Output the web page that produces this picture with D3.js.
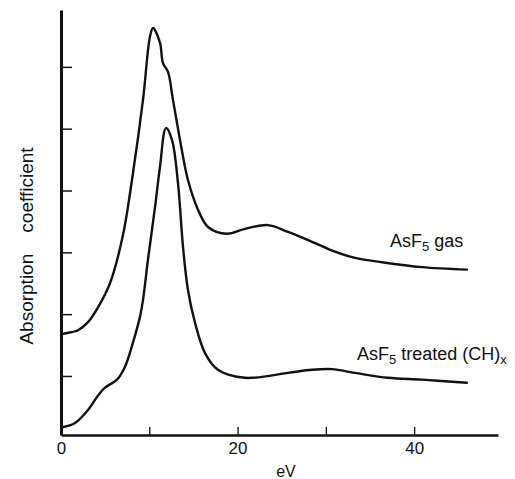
<!DOCTYPE html>
<html>
<head>
<meta charset="utf-8">
<script src="https://cdn.jsdelivr.net/npm/d3@7/dist/d3.min.js"></script>
<style>
  html, body { margin: 0; padding: 0; background: #fff; }
  svg { display: block; }
  text { font-family: "Liberation Sans", Arial, sans-serif; fill: #111; }
</style>
</head>
<body>
<svg id="chart" width="515" height="479"></svg>
<script>
// ---- data (eV, absorption coefficient, arbitrary units) ----
const gasX = [0, 0.23, 1.93, 3.06, 4.19, 5.55, 7.02, 8.15, 9.29, 10.08, 10.42, 11.21, 11.55, 12.12, 12.68, 13.82, 14.38, 15.52, 16.65, 18.80, 20.84, 23.44, 25.71, 28.43, 31.03, 33.30, 36.35, 40.88, 45.98];
const gasY = [1.66, 1.68, 1.74, 1.87, 2.11, 2.50, 3.28, 4.28, 5.47, 6.49, 6.63, 6.39, 6.06, 5.92, 5.47, 4.55, 4.17, 3.69, 3.41, 3.30, 3.38, 3.44, 3.33, 3.17, 3.01, 2.91, 2.84, 2.76, 2.72];

const chX = [0.11, 1.59, 3.06, 4.08, 4.98, 6.34, 7.25, 8.15, 8.95, 9.29, 9.85, 10.65, 11.21, 11.89, 12.57, 13.25, 13.82, 14.38, 15.18, 16.31, 17.78, 20.84, 25.71, 28.43, 30.69, 33.30, 37.03, 40.88, 45.98];
const chY = [0.17, 0.24, 0.45, 0.66, 0.81, 0.94, 1.15, 1.54, 1.96, 2.23, 2.88, 3.73, 4.38, 5.01, 4.82, 4.12, 3.09, 2.39, 1.86, 1.37, 1.10, 0.97, 1.05, 1.10, 1.11, 1.05, 0.97, 0.94, 0.89];

const xTicks = [0, 10, 20, 30, 40];
const xTickLabels = ["0", "", "20", "", "40"];
const yTicks = [1, 2, 3, 4, 5, 6];

// ---- layout ----
const svg = d3.select("#chart");
const x = d3.scaleLinear().domain([0, 49.5]).range([61, 498]);
const y = d3.scaleLinear().domain([0.045, 6.92]).range([435, 10]);

// axes
const xAxis = d3.axisBottom(x)
  .tickValues(xTicks)
  .tickFormat((d, i) => xTickLabels[i])
  .tickSizeInner(-8).tickSizeOuter(0).tickPadding(7);
const gx = svg.append("g").attr("transform", `translate(0,${y.range()[0]})`).call(xAxis);
gx.select(".domain").attr("stroke", "#111").attr("stroke-width", 2.5);
gx.selectAll(".tick line").attr("stroke", "#111").attr("stroke-width", 1.3);
gx.selectAll(".tick text").attr("font-size", 17).attr("fill", "#111")
  .attr("font-family", "'Liberation Sans', Arial, sans-serif");

const yAxis = d3.axisLeft(y)
  .tickValues(yTicks).tickFormat("")
  .tickSizeInner(-11).tickSizeOuter(0);
const gy = svg.append("g").attr("transform", `translate(${x.range()[0]},0)`).call(yAxis);
gy.select(".domain").attr("stroke", "#111").attr("stroke-width", 3);
gy.selectAll(".tick line").attr("stroke", "#111").attr("stroke-width", 1.5);

// curves
const line = d3.line()
  .x(d => x(d[0])).y(d => y(d[1]))
  .curve(d3.curveCatmullRom.alpha(0.5));

const gasData = gasX.map((v, i) => [v, gasY[i]]);
const chData = chX.map((v, i) => [v, chY[i]]);

[gasData, chData].forEach(data => {
  svg.append("path").datum(data)
    .attr("d", line)
    .attr("fill", "none")
    .attr("stroke", "#111")
    .attr("stroke-width", 2.4)
    .attr("stroke-linejoin", "round")
    .attr("stroke-linecap", "round");
});

// labels
function label(xp, yp, main, sub, rest, sub2) {
  const t = svg.append("text").attr("x", xp).attr("y", yp).attr("font-size", 18);
  t.append("tspan").text(main);
  t.append("tspan").attr("font-size", 13).attr("dy", 4).text(sub);
  t.append("tspan").attr("dy", -4).text(rest);
  if (sub2) t.append("tspan").attr("font-size", 13).attr("dy", 4).text(sub2);
}
label(390, 247, "AsF", "5", " gas");
label(357, 360, "AsF", "5", " treated (CH)", "x");

svg.append("text")
  .attr("transform", "translate(33,246) rotate(-90)")
  .attr("text-anchor", "middle")
  .attr("font-size", 19)
  .attr("xml:space", "preserve")
  .style("white-space", "pre")
  .text("Absorption    coefficient");

svg.append("text")
  .attr("x", 286).attr("y", 477)
  .attr("text-anchor", "middle")
  .attr("font-size", 16)
  .text("eV");
</script>
</body>
</html>
